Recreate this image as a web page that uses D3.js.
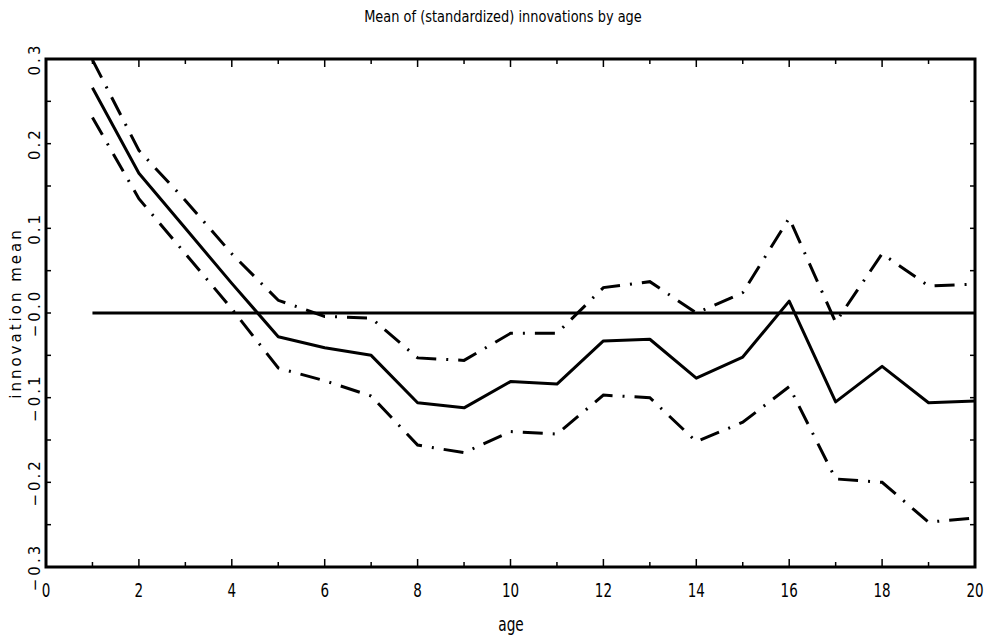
<!DOCTYPE html>
<html>
<head>
<meta charset="utf-8">
<script src="https://cdn.jsdelivr.net/npm/d3@7"></script>
<style>
  body { margin: 0; background: #fff; }
  .cond { font-family: "Liberation Sans Narrow", "DejaVu Sans Condensed", sans-serif; }
</style>
</head>
<body>
<svg id="chart" width="984" height="641"></svg>
<script>
// data
var ages = [1,2,3,4,5,6,7,8,9,10,11,12,13,14,15,16,17,18,19,20];
var meanVals  = [0.266,0.165,0.100,0.035,-0.028,-0.041,-0.050,-0.106,-0.112,-0.081,-0.084,-0.033,-0.031,-0.077,-0.052,0.014,-0.105,-0.063,-0.106,-0.104];
var upperVals = [0.299,0.192,0.133,0.070,0.015,-0.004,-0.006,-0.053,-0.056,-0.024,-0.024,0.030,0.037,0.000,0.024,0.112,-0.011,0.070,0.032,0.034];
var lowerVals = [0.231,0.135,0.070,0.005,-0.065,-0.080,-0.098,-0.156,-0.165,-0.140,-0.143,-0.097,-0.100,-0.152,-0.129,-0.087,-0.196,-0.200,-0.247,-0.242];
var zeroVals  = [0, 0];
var zeroAges  = [1, 20];
var yTicks = [0.3, 0.2, 0.1, 0.0, -0.1, -0.2, -0.3];
var yTickLabels = ["0.3", "0.2", "0.1", "\u22120.0", "\u22120.1", "\u22120.2", "\u22120.3"];
var xTicks = [0, 2, 4, 6, 8, 10, 12, 14, 16, 18, 20];

var svg = d3.select("#chart");
var mLeft = 46, mRight = 975, mTop = 59, mBottom = 567;

var x = d3.scaleLinear().domain([0, 20]).range([mLeft, mRight]);
var y = d3.scaleLinear().domain([-0.3, 0.3]).range([mBottom, mTop]);

// title
svg.append("text")
  .attr("class", "cond")
  .attr("transform", "translate(503,22) scale(0.9,1)")
  .attr("text-anchor", "middle")
  .attr("font-size", 16)
  .text("Mean of (standardized) innovations by age");

// axis ticks (inward), every 1 on x and 0.05 on y
var xMinor = d3.range(0, 21, 1);
var yMinor = d3.range(-0.3, 0.3001, 0.05);
var ticks = svg.append("g").attr("stroke", "black").attr("stroke-width", 1.5);
xMinor.forEach(function(v){
  var len = (v % 2 == 0) ? 8 : 5;
  ticks.append("line").attr("x1", x(v)).attr("x2", x(v)).attr("y1", mBottom).attr("y2", mBottom - len);
  ticks.append("line").attr("x1", x(v)).attr("x2", x(v)).attr("y1", mTop).attr("y2", mTop + len);
});
yMinor.forEach(function(v){
  ticks.append("line").attr("x1", mLeft).attr("x2", mLeft + 5).attr("y1", y(v)).attr("y2", y(v));
  ticks.append("line").attr("x1", mRight).attr("x2", mRight - 5).attr("y1", y(v)).attr("y2", y(v));
});

// frame
svg.append("rect")
  .attr("x", mLeft).attr("y", mTop)
  .attr("width", mRight - mLeft).attr("height", mBottom - mTop)
  .attr("fill", "none").attr("stroke", "black").attr("stroke-width", 3);

// x tick labels (tall, narrow)
svg.append("g").selectAll("text").data(xTicks).join("text")
  .attr("class", "cond")
  .attr("transform", function(d){ return "translate(" + x(d) + ",597) scale(0.75,1)"; })
  .attr("text-anchor", "middle")
  .attr("font-size", 20)
  .text(function(d){ return d; });

svg.append("text")
  .attr("class", "cond")
  .attr("transform", "translate(511,631) scale(0.8,1)")
  .attr("text-anchor", "middle")
  .attr("font-size", 19)
  .text("age");

// y tick labels, rotated
svg.append("g").selectAll("text").data(yTicks).join("text")
  .attr("transform", function(d){ return "translate(40," + y(d) + ") rotate(-90)"; })
  .attr("text-anchor", "middle")
  .attr("font-family", "DejaVu Sans, sans-serif")
  .attr("font-size", 15)
  .attr("letter-spacing", 3)
  .text(function(d, i){ return yTickLabels[i]; });

svg.append("text")
  .attr("transform", "translate(21," + y(0) + ") rotate(-90)")
  .attr("text-anchor", "middle")
  .attr("font-family", "DejaVu Sans, sans-serif")
  .attr("font-size", 15)
  .attr("letter-spacing", 3)
  .text("innovation mean");

// lines
var line = d3.line()
  .x(function(d){ return x(d[0]); })
  .y(function(d){ return y(d[1]); });

function series(vals, xs){
  return xs.map(function(a, i){ return [a, vals[i]]; });
}

var plot = svg.append("g");
plot.append("path")
  .attr("d", line(series(zeroVals, zeroAges)))
  .attr("fill", "none").attr("stroke", "black").attr("stroke-width", 3);

plot.append("path")
  .attr("d", line(series(meanVals, ages)))
  .attr("fill", "none").attr("stroke", "black").attr("stroke-width", 3)
  .attr("stroke-linejoin", "round");

[upperVals, lowerVals].forEach(function(vals){
  plot.append("path")
    .attr("d", line(series(vals, ages)))
    .attr("fill", "none").attr("stroke", "black").attr("stroke-width", 3)
    .attr("stroke-dasharray", "20,10,2,10");
});
</script>
</body>
</html>
